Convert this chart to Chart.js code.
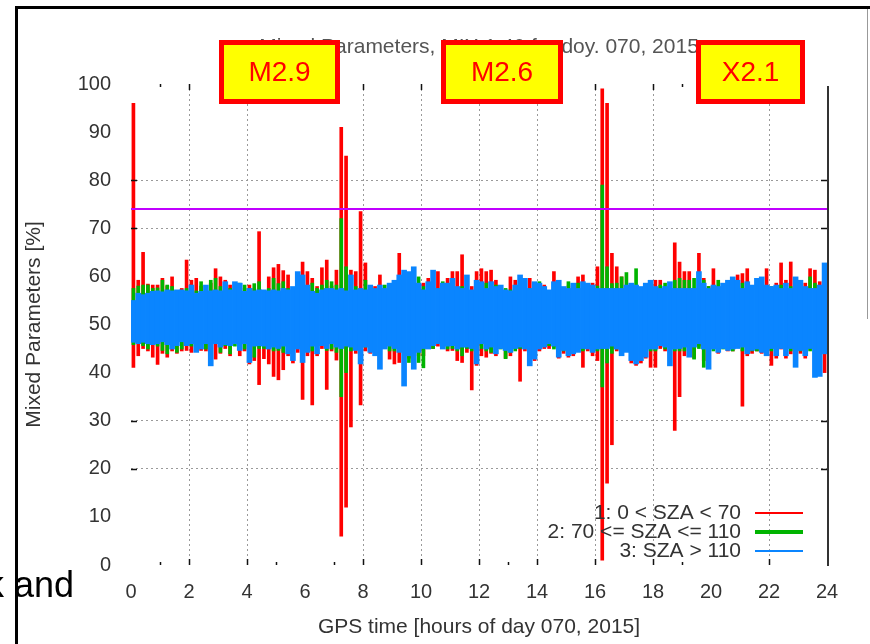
<!DOCTYPE html>
<html>
<head>
<meta charset="utf-8">
<script src="https://cdn.jsdelivr.net/npm/chart.js@4.4.1/dist/chart.umd.min.js"></script>
<style>
html, body { margin: 0; padding: 0; background: #fff; }
#wrap { width: 870px; height: 644px; }
</style>
</head>
<body>
<div id="wrap"><canvas id="chart" width="870" height="644"></canvas></div>
<script>
// 10 minute bins over doy 070, min/max of each SZA class per bin
const BIN_MINUTES = 10;
const threshold = 74;
const seriesLabels = ['1: 0 < SZA < 70', '2: 70 <= SZA <= 110', '3: SZA > 110'];
const flareLabels = ['M2.9', 'M2.6', 'X2.1'];
const titleText = 'Mixed Parameters, MIX 1.40 for doy. 070, 2015';

const blueHi = [
  55.0, 56.5, 56.2, 56.5, 56.9, 57.0, 56.8, 57.2, 57.0, 57.2, 57.2, 57.0,
  58.2, 56.5, 56.9, 58.2, 57.0, 57.2, 57.0, 58.9, 57.2, 58.9, 58.6, 56.9,
  57.5, 57.0, 57.2, 57.2, 57.0, 57.2, 57.0, 57.5, 57.2, 57.9, 61.0, 60.3,
  58.2, 56.9, 56.5, 57.2, 57.5, 57.5, 57.2, 57.5, 57.0, 60.3, 57.2, 57.5,
  57.2, 58.2, 57.5, 58.2, 57.5, 58.6, 59.2, 60.3, 61.3, 61.0, 62.0, 58.6,
  57.2, 58.9, 61.3, 57.5, 58.6, 58.6, 59.6, 57.9, 57.5, 60.3, 57.2, 59.2,
  58.9, 57.5, 58.9, 57.9, 58.2, 57.2, 57.0, 58.2, 60.3, 59.6, 57.5, 58.9,
  58.6, 57.9, 57.2, 58.9, 59.2, 57.9, 57.5, 58.6, 57.5, 58.9, 58.6, 58.2,
  57.5, 57.5, 57.5, 57.5, 57.5, 57.5, 58.2, 58.6, 58.2, 57.9, 58.6, 59.2,
  57.9, 57.5, 57.9, 58.9, 57.5, 57.5, 57.5, 57.5, 57.5, 61.0, 58.6, 57.5,
  58.2, 57.9, 58.6, 59.2, 59.9, 59.2, 57.5, 58.9, 58.2, 59.6, 59.9, 58.2,
  57.9, 58.2, 57.5, 58.6, 57.5, 59.9, 59.2, 57.9, 57.5, 57.5, 58.2, 62.8
];
const blueLo = [
  46.3, 46.0, 46.3, 46.0, 45.8, 46.0, 46.4, 45.8, 44.9, 45.6, 46.4, 45.6,
  46.0, 44.2, 44.9, 46.0, 41.4, 46.0, 45.3, 45.8, 45.6, 46.0, 44.6, 46.0,
  42.1, 45.5, 45.6, 45.5, 44.9, 45.3, 45.0, 45.5, 43.9, 42.5, 44.9, 42.1,
  44.2, 45.5, 43.9, 45.6, 45.0, 46.0, 45.3, 45.0, 45.5, 45.3, 44.6, 41.8,
  45.3, 44.2, 43.5, 40.7, 44.9, 45.5, 45.0, 44.2, 37.2, 43.5, 40.7, 44.2,
  45.0, 44.9, 45.6, 46.0, 44.9, 45.5, 45.6, 44.9, 45.3, 45.3, 45.0, 41.8,
  46.0, 44.9, 45.3, 43.9, 45.0, 44.6, 44.2, 45.0, 45.3, 44.9, 41.4, 42.8,
  44.9, 45.3, 46.0, 45.5, 43.2, 44.6, 43.5, 43.9, 44.2, 45.0, 44.9, 44.2,
  44.9, 45.0, 45.0, 45.5, 44.9, 43.5, 44.2, 42.5, 41.8, 42.5, 43.2, 44.9,
  44.9, 45.6, 45.3, 41.4, 44.9, 45.0, 45.3, 43.2, 45.3, 46.0, 44.9, 40.7,
  44.9, 44.2, 45.0, 44.6, 44.9, 45.0, 45.3, 43.9, 44.6, 44.9, 44.2, 43.5,
  45.0, 43.5, 45.0, 43.5, 45.0, 41.1, 44.6, 43.5, 45.0, 39.0, 39.2, 43.9
];
const greenHi = [
  57.5, 58.0, 58.2, 58.2, 57.5, 57.6, 59.2, 58.2, 57.9, 56.9, 56.9, 57.5,
  57.5, 57.0, 58.9, 57.5, 59.2, 59.6, 57.9, 57.5, 57.5, 57.9, 58.6, 58.2,
  57.5, 58.5, 58.9, 56.5, 57.5, 59.6, 58.5, 58.9, 57.5, 57.5, 57.5, 57.9,
  57.2, 58.6, 57.5, 58.2, 59.2, 58.9, 58.2, 72.0, 62.0, 57.5, 57.9, 57.0,
  59.2, 57.5, 57.0, 57.5, 58.2, 57.5, 58.0, 58.0, 57.5, 57.9, 57.5, 59.9,
  57.9, 57.5, 58.0, 57.5, 58.9, 57.5, 57.5, 57.5, 57.9, 56.9, 56.9, 57.5,
  57.5, 58.6, 57.9, 58.2, 57.5, 57.5, 57.2, 57.5, 57.9, 57.5, 57.5, 57.5,
  58.9, 57.5, 56.9, 57.5, 57.2, 57.5, 58.9, 57.5, 58.6, 57.5, 57.5, 57.5,
  58.0, 79.0, 62.0, 58.5, 58.6, 59.9, 60.8, 57.5, 61.6, 57.5, 57.5, 57.5,
  57.5, 58.2, 58.6, 57.5, 59.2, 59.6, 59.2, 59.2, 59.6, 57.5, 59.2, 57.9,
  57.5, 59.2, 58.2, 57.5, 57.5, 57.5, 58.6, 57.5, 57.5, 57.5, 57.5, 57.5,
  57.9, 57.5, 58.2, 57.5, 57.9, 57.5, 58.2, 57.5, 59.9, 58.6, 57.5, 57.9
];
const greenLo = [
  45.8, 46.2, 45.6, 44.9, 46.0, 45.5, 44.6, 43.9, 45.6, 44.2, 44.9, 45.6,
  45.5, 45.0, 45.3, 44.9, 45.0, 46.4, 44.2, 45.6, 43.9, 45.5, 45.0, 44.9,
  44.6, 43.2, 45.0, 45.0, 45.0, 44.5, 44.6, 44.2, 44.9, 44.0, 45.0, 44.5,
  45.0, 44.5, 44.9, 46.4, 44.6, 44.9, 44.2, 35.0, 40.0, 44.5, 44.9, 45.0,
  45.3, 44.6, 45.6, 45.0, 45.0, 44.5, 44.5, 44.9, 45.0, 42.1, 41.1, 42.1,
  41.0, 45.0, 45.0, 46.4, 45.3, 44.9, 45.0, 44.5, 43.5, 45.0, 44.5, 44.5,
  45.0, 44.5, 44.2, 44.6, 44.9, 42.9, 44.2, 44.5, 45.0, 46.0, 44.5, 44.5,
  45.0, 46.4, 45.6, 44.9, 44.5, 44.5, 44.2, 44.5, 44.5, 44.5, 46.0, 44.5,
  44.5, 37.0, 42.0, 44.0, 44.9, 44.5, 45.3, 44.5, 44.5, 43.2, 44.5, 44.5,
  44.5, 46.4, 44.9, 44.5, 44.5, 44.5, 44.5, 44.5, 42.8, 45.0, 41.1, 44.5,
  44.5, 44.5, 44.9, 45.0, 44.5, 45.3, 44.5, 44.5, 44.5, 44.5, 44.5, 44.5,
  44.5, 44.5, 45.3, 44.5, 44.5, 44.5, 44.5, 46.4, 44.5, 44.5, 44.5, 44.5
];
const redHi = [
  96.0, 59.2, 65.0, 58.4, 58.2, 58.2, 59.6, 58.0, 59.9, 57.0, 57.5, 63.4,
  59.2, 59.6, 58.0, 57.8, 58.6, 61.6, 59.9, 59.2, 58.2, 58.0, 58.0, 57.5,
  58.2, 57.5, 69.3, 57.0, 59.9, 61.8, 62.5, 61.2, 60.3, 57.5, 58.0, 63.0,
  61.0, 59.6, 57.9, 61.8, 63.4, 58.0, 61.3, 91.0, 85.0, 61.3, 61.0, 73.5,
  62.8, 57.5, 57.9, 60.3, 57.0, 58.2, 58.2, 64.8, 60.6, 58.0, 57.5, 58.0,
  58.6, 59.6, 59.6, 61.0, 57.0, 59.6, 61.0, 61.0, 64.5, 58.0, 57.9, 61.0,
  61.6, 61.0, 61.3, 59.2, 57.2, 57.0, 59.9, 59.2, 57.5, 58.9, 59.6, 58.2,
  58.0, 58.2, 57.0, 61.0, 58.0, 57.5, 58.0, 57.5, 59.9, 60.3, 57.5, 58.6,
  62.0, 99.0, 96.0, 64.8, 62.0, 59.9, 58.0, 58.2, 58.0, 57.5, 58.2, 58.6,
  59.2, 59.2, 57.5, 58.6, 67.0, 63.0, 61.0, 61.0, 57.5, 64.8, 59.6, 57.9,
  61.6, 58.0, 58.0, 58.2, 58.2, 60.3, 60.6, 61.6, 57.5, 58.0, 59.6, 61.6,
  57.5, 58.6, 62.8, 59.2, 63.0, 59.6, 58.0, 58.6, 61.6, 61.3, 58.9, 58.0
];
const redLo = [
  41.1, 43.5, 45.0, 44.5, 43.2, 41.7, 44.0, 43.2, 44.5, 44.0, 44.5, 44.6,
  44.2, 44.9, 44.6, 44.5, 44.5, 42.8, 44.0, 45.0, 43.5, 46.4, 43.5, 44.5,
  41.8, 42.5, 37.5, 42.9, 41.8, 39.2, 38.5, 40.6, 43.5, 42.0, 44.2, 34.4,
  43.5, 33.3, 43.5, 45.0, 36.5, 44.5, 42.6, 6.0, 12.0, 28.7, 44.0, 33.3,
  44.5, 44.0, 44.0, 44.5, 46.0, 42.8, 41.8, 42.1, 44.5, 43.0, 42.0, 43.5,
  43.5, 45.3, 45.0, 45.5, 45.0, 44.5, 44.6, 42.5, 42.1, 44.2, 36.4, 41.5,
  43.5, 43.2, 44.0, 43.5, 45.6, 43.0, 43.5, 45.0, 38.2, 44.5, 44.0, 42.5,
  44.5, 45.0, 45.0, 45.3, 43.0, 44.0, 43.2, 43.5, 45.6, 41.1, 44.5, 43.5,
  42.5, 1.0, 17.0, 25.0, 44.5, 44.9, 44.5, 42.0, 41.5, 42.0, 43.0, 41.1,
  41.1, 45.0, 44.5, 44.0, 28.0, 35.0, 43.5, 43.5, 43.0, 45.5, 42.5, 44.0,
  46.0, 44.0, 45.6, 44.5, 44.5, 45.3, 33.0, 43.5, 44.0, 44.5, 44.0, 46.0,
  41.5, 43.0, 44.9, 43.0, 43.9, 42.0, 44.0, 43.0, 44.9, 40.8, 42.0, 40.0
];

// style
const FONT = "'Liberation Sans', Arial, sans-serif";
const RED = '#ff0000', GREEN = '#00b400', BLUE = '#0a85ff', MAGENTA = '#c000ff';
const gridYShown = [20, 30, 70, 80];
const gridXHidden = [0, 6, 20, 24];
const flareBoxes = [
  { left: 219, right: 340 },
  { left: 441, right: 563 },
  { left: 696, right: 805 }
];

const binHours = blueHi.map((v, i) => (i + 0.5) * BIN_MINUTES / 60);

function bars(lo, hi) {
  return hi.map((h, i) => ({ x: binHours[i], y: [lo[i], h] }));
}

function barSet(label, lo, hi, color, width, order) {
  return {
    type: 'bar', label: label, data: bars(lo, hi),
    backgroundColor: color, borderWidth: 0,
    barThickness: width, grouped: false, order: order
  };
}

const slideLayer = {
  id: 'slideLayer',
  afterDraw(chart) {
    const ctx = chart.ctx;
    const a = chart.chartArea;
    const xs = chart.scales.x, ys = chart.scales.y;
    ctx.save();

    // plot right border
    ctx.strokeStyle = '#333';
    ctx.lineWidth = 2;
    ctx.beginPath();
    ctx.moveTo(a.right + 1, a.top + 2);
    ctx.lineTo(a.right + 1, a.bottom + 1);
    ctx.stroke();

    // inward ticks
    ctx.strokeStyle = '#111';
    ctx.lineWidth = 1.5;
    ctx.beginPath();
    [1, 2, 4, 5, 7, 8, 10, 12, 13, 14, 16, 18, 19, 22].forEach(function(h) {
      const px = Math.round(xs.getPixelForValue(h)) + 0.5;
      const len = h % 2 ? 3 : 6;
      ctx.moveTo(px, a.bottom); ctx.lineTo(px, a.bottom - len);
    });
    [1, 2, 8, 10, 16, 18, 19].forEach(function(h) {
      const px = Math.round(xs.getPixelForValue(h)) + 0.5;
      const len = h % 2 ? 3 : 6;
      ctx.moveTo(px, a.top); ctx.lineTo(px, a.top + len);
    });
    gridYShown.forEach(function(v) {
      const py = Math.round(ys.getPixelForValue(v)) + 0.5;
      ctx.moveTo(a.left, py); ctx.lineTo(a.left + 6, py);
      ctx.moveTo(a.right, py); ctx.lineTo(a.right - 6, py);
    });
    ctx.stroke();

    // legend
    const legendColors = [RED, GREEN, BLUE];
    const legendWidths = [2, 4, 2];
    const rows = [513, 532, 551];
    ctx.font = '21px ' + FONT;
    ctx.textAlign = 'right';
    ctx.textBaseline = 'middle';
    for (let i = 0; i < 3; i++) {
      ctx.fillStyle = '#333';
      ctx.fillText(seriesLabels[i], 741, rows[i]);
      ctx.strokeStyle = legendColors[i];
      ctx.lineWidth = legendWidths[i];
      ctx.beginPath();
      ctx.moveTo(755, rows[i]); ctx.lineTo(803, rows[i]);
      ctx.stroke();
    }

    // plot title (mostly hidden under the flare labels)
    ctx.fillStyle = '#555';
    ctx.textAlign = 'center';
    ctx.fillText(titleText, 479, 47);

    // flare boxes
    flareBoxes.forEach(function(b, i) {
      ctx.fillStyle = '#ffff00';
      ctx.fillRect(b.left, 40, b.right - b.left, 64);
      ctx.strokeStyle = RED;
      ctx.lineWidth = 5;
      ctx.strokeRect(b.left + 2.5, 42.5, b.right - b.left - 5, 59);
      ctx.fillStyle = RED;
      ctx.font = '28px ' + FONT;
      ctx.fillText(flareLabels[i], (b.left + b.right) / 2, 73);
    });

    // slide frame and cut-off slide text
    ctx.fillStyle = '#000';
    ctx.textAlign = 'left';
    ctx.textBaseline = 'alphabetic';
    ctx.font = '36px ' + FONT;
    ctx.fillText('k and', -14, 597);
    ctx.fillRect(15, 6, 3, 638);
    ctx.fillRect(15, 6, 855, 3);
    ctx.fillStyle = '#999';
    ctx.fillRect(867, 9, 1, 310);
    ctx.restore();
  }
};

new Chart(document.getElementById('chart'), {
  type: 'bar',
  data: {
    datasets: [
      {
        type: 'line', label: 'threshold',
        data: [{ x: 0, y: threshold }, { x: 24, y: threshold }],
        borderColor: MAGENTA, borderWidth: 2, pointRadius: 0, order: 0
      },
      barSet(seriesLabels[2], blueLo, blueHi, BLUE, 5, 1),
      barSet(seriesLabels[1], greenLo, greenHi, GREEN, 3, 2),
      barSet(seriesLabels[0], redLo, redHi, RED, 3, 3)
    ]
  },
  options: {
    responsive: false,
    animation: false,
    layout: { padding: { top: 84, right: 43, left: 0, bottom: 0 } },
    plugins: { legend: { display: false }, tooltip: { enabled: false }, title: { display: false } },
    scales: {
      x: {
        type: 'linear', min: 0, max: 24, offset: false,
        ticks: { stepSize: 2, color: '#333', font: { family: FONT, size: 20 }, padding: 15, maxRotation: 0, autoSkip: false },
        grid: {
          offset: false, drawTicks: false, lineWidth: 1,
          color: c => (c.tick && !gridXHidden.includes(c.tick.value)) ? '#9a9a9a' : 'rgba(0,0,0,0)'
        },
        border: { display: false, dash: [2, 3] },
        title: { display: true, text: 'GPS time [hours of day 070, 2015]', color: '#333', font: { family: FONT, size: 21 }, padding: { top: 0, bottom: 4 } },
        afterFit: s => { s.height = 79; }
      },
      y: {
        min: 0, max: 100,
        ticks: { stepSize: 10, color: '#333', font: { family: FONT, size: 20 }, padding: 20 },
        grid: {
          drawTicks: false, lineWidth: 1,
          color: c => (c.tick && gridYShown.includes(c.tick.value)) ? '#9a9a9a' : 'rgba(0,0,0,0)'
        },
        border: { display: false, dash: [2, 3] },
        title: { display: true, text: 'Mixed Parameters [%]', color: '#333', font: { family: FONT, size: 21 }, padding: { top: 22, bottom: 0 } },
        afterFit: s => { s.width = 131; }
      }
    }
  },
  plugins: [slideLayer]
});
</script>
</body>
</html>
